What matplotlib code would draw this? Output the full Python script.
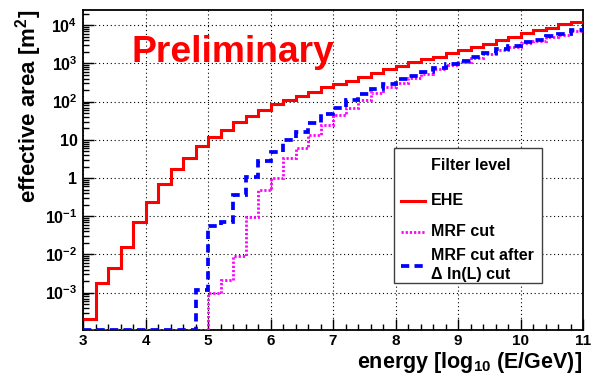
import numpy as np
import matplotlib
matplotlib.use("Agg")
import matplotlib.pyplot as plt
from matplotlib.lines import Line2D
from matplotlib.patches import Rectangle
from matplotlib.ticker import FixedLocator, LogLocator, NullFormatter, FixedFormatter

plt.rcParams['font.family'] = ['Liberation Sans', 'DejaVu Sans']
plt.rcParams['font.weight'] = 'bold'
plt.rcParams['mathtext.fontset'] = 'custom'
plt.rcParams['mathtext.rm'] = 'Liberation Sans:bold'
plt.rcParams['mathtext.bf'] = 'Liberation Sans:bold'
plt.rcParams['mathtext.it'] = 'Liberation Sans:bold'

# ---- data: bins of log10(E/GeV), width 0.2 from 3 to 11 ----
bin_edges = np.round(np.arange(3.0, 11.0001, 0.2), 2)

ehe = [2.1e-4, 1.8e-3, 4.4e-3, 1.6e-2, 7.0e-2, 0.23, 0.7, 1.7, 3.3, 6.7,
       11.7, 18, 30, 42, 60, 87, 113, 138, 175, 236,
       290, 350, 450, 550, 710, 870, 1070, 1300, 1500, 1830,
       2270, 2700, 3300, 4000, 4900, 6200, 7400, 8700, 10700, 12300]

mrf = [0, 0, 0, 0, 0, 0, 0, 0, 0, 0,
       1.0e-3, 2.2e-3, 9.0e-3, 0.095, 0.5, 1.0, 3.4, 6.2, 13, 25,
       44, 69, 110, 166, 234, 315, 420, 540, 700, 900,
       1080, 1400, 1720, 2200, 2700, 3350, 3900, 4900, 5700, 7100]

mrf_dlnl = [0, 0, 0, 0, 0, 0, 0, 0, 0, 1.2e-3,
            0.057, 0.071, 0.35, 1.07, 2.8, 4.8, 10, 16, 27, 46,
            69, 111, 155, 214, 283, 380, 475, 600, 770, 960,
            1150, 1490, 1820, 2330, 2830, 3530, 4060, 5160, 5930, 7400]

x_ticks = [3, 4, 5, 6, 7, 8, 9, 10, 11]
y_ticks = [1e-3, 1e-2, 1e-1, 1, 10, 1e2, 1e3, 1e4]
y_ticklabels = [r'$\mathbf{10^{-3}}$', r'$\mathbf{10^{-2}}$', r'$\mathbf{10^{-1}}$',
                '1', '10', r'$\mathbf{10^{2}}$', r'$\mathbf{10^{3}}$', r'$\mathbf{10^{4}}$']

legend_title = "Filter level"
legend_labels = ["EHE", "MRF cut", "MRF cut after\n\u0394 ln(L) cut"]

YMIN, YMAX = 1.05e-4, 2.5e4

W, H = 595, 376
fig = plt.figure(figsize=(W / 100, H / 100), dpi=100)
ax = fig.add_axes([83 / W, 1 - 330 / H, 500 / W, 320 / H])

def clip(v):
    v = np.asarray(v, dtype=float)
    return np.where(v > 0, v, YMIN)

red, mag, blue = '#ff0000', '#ff00ff', '#0000ff'
mag_ls = (0, (0.8, 0.7))
blue_ls = (0, (2.2, 1.4))
ax.stairs(clip(mrf), bin_edges, baseline=None, color=mag, lw=2.0,
          linestyle=mag_ls, zorder=3)
ax.stairs(clip(mrf_dlnl), bin_edges, baseline=None, color=blue, lw=2.7,
          linestyle=blue_ls, zorder=4)
ax.stairs(clip(ehe), bin_edges, baseline=None, color=red, lw=2.2, zorder=5)

ax.set_yscale('log')
ax.set_xlim(3, 11)
ax.set_ylim(YMIN, YMAX)

ax.xaxis.set_major_locator(FixedLocator(x_ticks))
ax.xaxis.set_minor_locator(FixedLocator(bin_edges))
ax.yaxis.set_major_locator(FixedLocator(y_ticks))
ax.yaxis.set_major_formatter(FixedFormatter(y_ticklabels))
ax.yaxis.set_minor_locator(LogLocator(base=10, subs=np.arange(2, 10), numticks=20))
ax.yaxis.set_minor_formatter(NullFormatter())

ax.tick_params(axis='both', which='both', direction='in', top=False, right=False,
               labelsize=11.5, color='black')
ax.tick_params(axis='x', which='major', length=8, width=1, pad=3, labelsize=11)
ax.tick_params(axis='x', which='minor', length=4.5, width=1)
ax.tick_params(axis='y', which='major', length=8, width=1, pad=4)
ax.tick_params(axis='y', which='minor', length=4.5, width=1)
for lab in ax.get_xticklabels() + ax.get_yticklabels():
    lab.set_fontweight('bold')

ax.grid(True, which='major', color='black', lw=0.8, linestyle=(0, (1, 2.5)))
for s in ax.spines.values():
    s.set_linewidth(1.3)
    s.set_color('black')

# axis titles (ROOT-style, right/top aligned)
fig.text(582 / W, 1 - 368 / H, r'energy [log$_{\mathbf{10}}$ (E/GeV)]', ha='right',
         va='baseline', fontsize=15.5, fontweight='bold')
fig.text(36 / W, 1 - 10 / H, r'effective area [m$^{\mathbf{2}}$]', ha='right',
         va='baseline', rotation=90, rotation_mode='anchor', fontsize=16, fontweight='bold')

fig.text(131 / W, 1 - 62 / H, 'Preliminary', color=red, fontsize=26.8,
         fontweight='bold', ha='left', va='baseline')

# legend box
fig.patches.append(Rectangle((394 / W, 1 - 283 / H), 148 / W, 135 / H,
                             transform=fig.transFigure, facecolor='white',
                             edgecolor='#404040', lw=1.0, zorder=10))
tx = 431 / W
fs = 11.5
fig.text(tx, 1 - 166 / H, legend_title, ha='left', va='center', fontsize=fs,
         fontweight='bold', zorder=11)
fig.text(tx, 1 - 201 / H, legend_labels[0], ha='left', va='center', fontsize=fs,
         fontweight='bold', zorder=11)
fig.text(tx, 1 - 232 / H, legend_labels[1], ha='left', va='center', fontsize=fs,
         fontweight='bold', zorder=11)
l1, l2 = legend_labels[2].split('\n')
fig.text(tx, 1 - 256 / H, l1, ha='left', va='center', fontsize=fs,
         fontweight='bold', zorder=11)
fig.text(tx, 1 - 275 / H, l2, ha='left', va='center', fontsize=fs,
         fontweight='bold', zorder=11)
x0, x1 = 401 / W, 425 / W
fig.lines.append(Line2D([x0, x1], [1 - 201 / H] * 2, transform=fig.transFigure,
                        color=red, lw=2.2, zorder=11))
fig.lines.append(Line2D([x0, x1], [1 - 232 / H] * 2, transform=fig.transFigure,
                        color=mag, lw=2.0, linestyle=mag_ls, zorder=11))
fig.lines.append(Line2D([x0, x1], [1 - 266 / H] * 2, transform=fig.transFigure,
                        color=blue, lw=2.7, linestyle=blue_ls, zorder=11))

fig.savefig('out.png', dpi=100)
